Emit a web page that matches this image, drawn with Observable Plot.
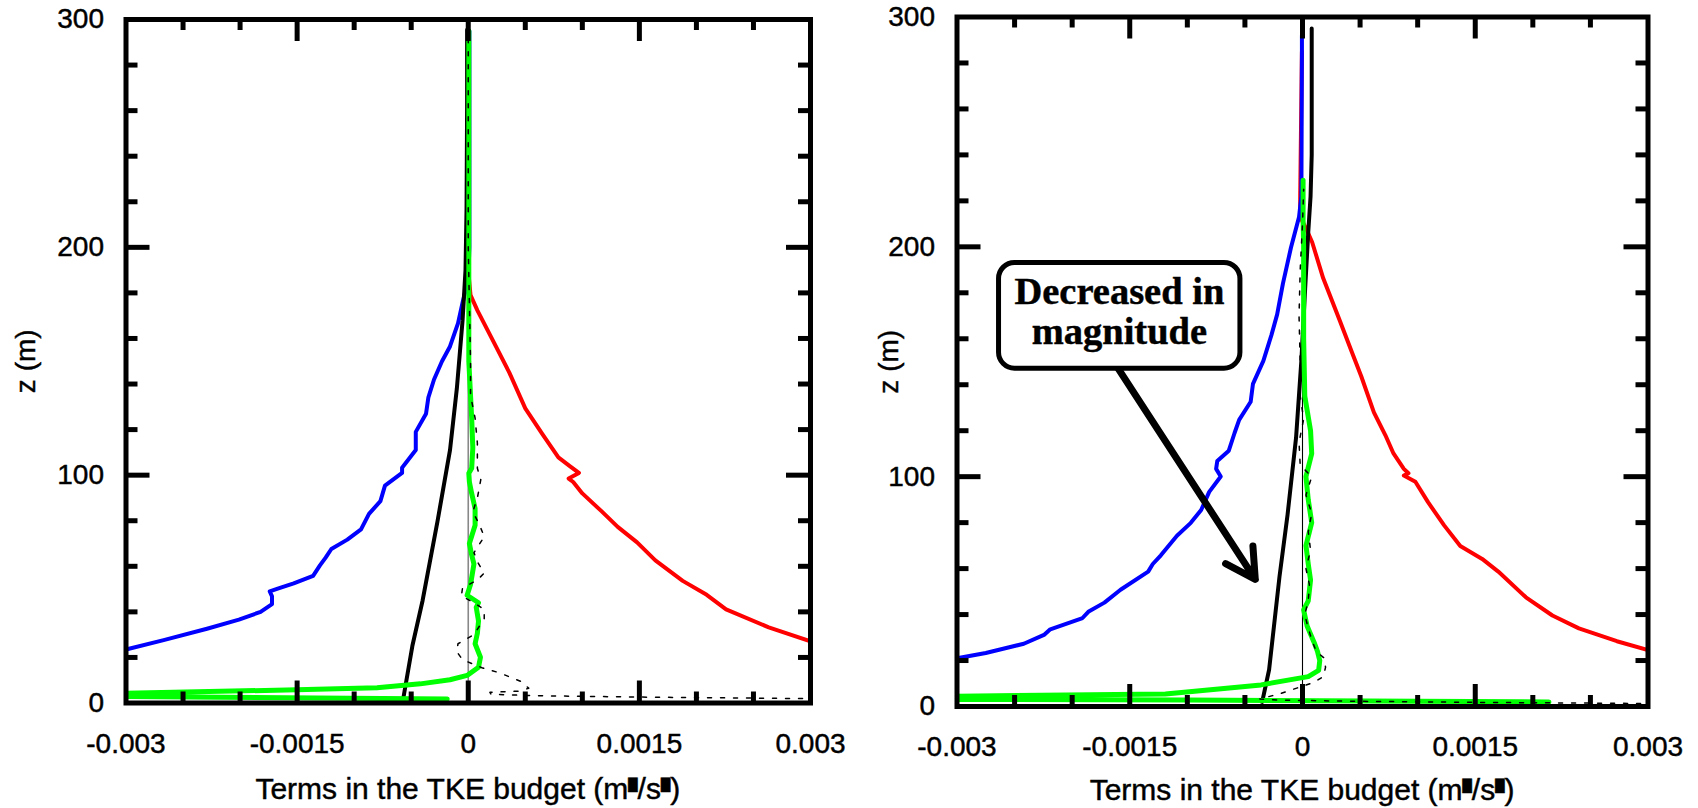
<!DOCTYPE html>
<html><head><meta charset="utf-8">
<script src="https://cdn.jsdelivr.net/npm/d3@7"></script>
<script src="https://cdn.jsdelivr.net/npm/@observablehq/plot@0.6"></script>
<style>
html,body{margin:0;padding:0;background:#fff;}
#wrap{position:relative;width:1698px;height:808px;overflow:hidden;background:#fff;}
#wrap svg{position:absolute;top:0;}
#wrap svg text{stroke:black;stroke-width:0.45px;}
</style></head><body><div id="wrap"></div>
<script>
// ---------- tick values ----------
const xLabelTicks = [-0.003, -0.0015, 0, 0.0015, 0.003];
const xMajorTicks = [-0.0015, 0, 0.0015];
const xMinorTicks = [-0.0025, -0.002, -0.001, -0.0005, 0.0005, 0.001, 0.002, 0.0025];
const zLabelTicks = [0, 100, 200, 300];
const zMajorTicks = [100, 200];
const zMinorTicks = [20, 40, 60, 80, 120, 140, 160, 180, 220, 240, 260, 280];

// ---------- left panel series: [term, z] ----------
const leftBlue = [[-0.00305,22.5],[-0.003,23.5],[-0.00267,27.6],[-0.00229,32.6],[-0.00201,36.6],[-0.00182,40],[-0.00172,43.4],[-0.00172,46.8],[-0.00174,49],[-0.00167,50.2],[-0.00153,52.5],[-0.00136,55.8],[-0.0013,60.4],[-0.00125,63.8],[-0.0012,67.6],[-0.00106,71.7],[-0.00094,76.2],[-0.00087,83],[-0.00077,88.6],[-0.00073,95.4],[-0.00058,101],[-0.00058,103.3],[-0.00046,111],[-0.00046,119],[-0.00037,127],[-0.00035,134],[-0.0003,142],[-0.00023,150],[-0.00016,156.5],[-0.00009,166.6],[-0.00005,175.7],[0,186],[0.00001,200],[0.00001,295]];
const leftRed = [[0,195],[0.000005,187],[0.00002,179],[0.00008,172.3],[0.00022,158.7],[0.00036,145],[0.0005,129.3],[0.00065,118],[0.00079,107.8],[0.00089,104],[0.00097,101],[0.00088,98.5],[0.00092,97],[0.001,92],[0.00117,84.1],[0.00131,77.3],[0.00148,70.5],[0.00164,62.6],[0.00188,53.6],[0.00209,47.5],[0.00226,41.1],[0.002634,33.2],[0.003,27.1],[0.0031,25.8]];
const leftBlack = [[-0.000568,2.4],[-0.00049,25],[-0.0004,45],[-0.00027,79.6],[-0.00016,111],[-0.0001,138],[-0.00005,167.8],[-0.000024,190],[-0.000015,217],[-0.00001,263],[-0.00001,295.5]];
const leftGreen = [[-0.000184,1.8],[-0.003,2.85],[-0.0034,3.5],[-0.003,4.3],[-0.0015,5.8],[-0.0008,6.7],[-0.00042,8.4],[-0.00016,10.2],[-0.00001,12.1],[0.00009,15.7],[0.000107,20.1],[0.00006,26],[0.00008,30.6],[0.00009,36],[0.00007,42],[0.00009,44],[-0.00001,47.3],[0.00002,52],[0.00005,61],[0.00003,65],[0.00001,70],[0.00006,78],[0.00006,85.4],[0.00003,92],[0.00001,97],[0.000005,100.8],[0.00003,103],[0.00004,112],[0.00003,125],[0.00002,135],[0.000005,150],[0.000005,175],[0.000005,200],[0.000005,295]];
const leftDotted = [[0.0035,1.8],[0.003,1.9],[0.0015,2.6],[0.0006,3.2],[0.0002,3.8],[0.00019,4.7],[0.00045,5.2],[0.00053,6.5],[0.00046,9.5],[0.00027,13.3],[0.00012,15.5],[-0.00005,19],[-0.0001,22.5],[-0.00009,26],[0.00005,30],[0.00014,37],[0.00014,41],[0.00005,44],[-0.00006,47],[-0.00005,50.5],[0.00008,54],[0.00014,57],[0.00008,62],[0.00005,66],[0.00014,73],[0.0001,78],[0.00004,84],[0.00008,90],[0.00011,98],[0.00008,103],[0.00008,114],[0.00006,125],[0.00002,135],[0.00002,150],[0.00001,175],[0,200],[0,295]];

// ---------- right panel series: [term, z] ----------
const rightBlue = [[-0.0031,20],[-0.003,21],[-0.00275,23.3],[-0.00242,27.3],[-0.00224,31.3],[-0.00219,33.6],[-0.00191,38.5],[-0.00186,41.2],[-0.00172,45.2],[-0.00158,50.8],[-0.00134,58.7],[-0.0013,62],[-0.00123,65.8],[-0.00109,74.3],[-0.00097,79.9],[-0.00088,85.5],[-0.00081,93.4],[-0.00071,100.1],[-0.00075,103.4],[-0.00074,106.8],[-0.00064,111.3],[-0.00059,119],[-0.00055,124.7],[-0.00045,132.6],[-0.00043,140.4],[-0.00034,150.4],[-0.00027,161.6],[-0.00022,170.6],[-0.00017,184],[-0.0001,199.7],[-0.00003,213],[-0.00001,222],[-0.000005,285],[-0.000005,292]];
const rightRed = [[-0.000005,285],[-0.00002,222],[-0.00002,213],[0.00004,207],[0.000084,202],[0.00018,186.3],[0.00032,168.4],[0.00044,152.7],[0.00051,143.7],[0.00062,128],[0.00072,118],[0.00079,110.1],[0.00088,103.4],[0.00092,101.5],[0.00088,100.5],[0.00098,97.8],[0.00109,88.9],[0.00123,78.8],[0.00137,69.8],[0.00156,64.2],[0.0017,58.7],[0.00194,47.5],[0.00217,39.6],[0.0024,34],[0.00273,28.4],[0.003,24.6],[0.0031,23.5]];
const rightBlack = [[-0.00035,2],[-0.00029,16],[-0.0002,56.4],[-0.00013,83.3],[-0.000056,116.9],[-0.00001,150.4],[0.000023,181.8],[0.00005,206.4],[0.00007,222],[0.00008,240],[0.00008,295]];
const rightGreen = [[0.00214,2.0],[0.001,2.3],[-0.001,2.8],[-0.003,3.1],[-0.0034,3.8],[-0.003,4.5],[-0.00119,5.4],[-0.00036,9.4],[0.00005,13],[0.00014,15.7],[0.00015,20],[0.00013,24],[0.0001,28],[0.00004,35],[0.00001,42],[0.00005,46],[0.00007,55],[0.00005,62],[0.00003,70],[0.00008,80],[0.00005,90],[0.00003,100],[0.00008,110],[0.00007,120],[0.00002,135],[0.00001,160],[0.00001,200],[0.000005,212],[0.000005,229]];
const rightDotted = [[0.0035,1.2],[0.003,1.3],[0.0015,1.8],[0.0004,2.3],[-0.0002,2.8],[-0.00037,3.3],[-0.0002,5.5],[-0.00005,8],[0.0001,10.5],[0.00018,13],[0.0002,17],[0.00019,21],[0.00012,24],[0.00008,29],[0.00004,36],[0.00002,40],[0.00005,46],[0.00006,53],[0.00003,60],[0.00007,68],[0.00005,76],[0.00008,84],[0.00003,92],[0.00008,100],[-0.00002,105],[-0.00003,115],[0.00001,125],[-0.00002,135],[-0.00002,150],[-0.00003,170],[-0.00002,190],[0,210],[0.00001,225]];

// ---------- annotation (right panel) ----------
const noteText = ["Decreased in\nmagnitude"];
const noteAnchor = [{x: -0.00159, z: 172}];
const noteBox = [{x1: -0.002635, x2: -0.000539, z1: 147, z2: 193}];
const noteArrow = [{x1: -0.0016, z1: 147, x2: -0.00041, z2: 55.3}];

const xTitle = ["Terms in the TKE budget (m", "/s", ")"];
const zTitle = ["z (m)"];

const SANS = "'Liberation Sans', Arial, Helvetica, sans-serif";

function panel(cfg) {
  const W = cfg.width, H = 808;
  const innerH = H - cfg.marginTop - cfg.marginBottom;
  const innerW = W - cfg.marginLeft - cfg.marginRight;
  const P = d => d[0], Z = d => d[1];
  const line = (data, stroke, sw, extra = {}) =>
    Plot.line(data, {x: P, y: Z, stroke, strokeWidth: sw, clip: true, strokeLinejoin: "round", ...extra});
  const marks = [
    Plot.ruleX([0], {stroke: cfg.zeroStroke, strokeWidth: cfg.zeroWidth}),
    line(cfg.red, "#ff0000", 4),
    line(cfg.blue, "#0000ff", 4),
    line(cfg.black, "#000000", 4),
    line(cfg.green, "#00ff00", 5),
    line(cfg.dotted, "#000000", 1.5, {strokeDasharray: "4,9"}),
    ...(cfg.extra || []),
    Plot.frame({stroke: "black", strokeWidth: 5}),
    Plot.tickX(xMajorTicks, {x: d => d, insetTop: innerH - 22, strokeWidth: 5}),
    Plot.tickX(xMinorTicks, {x: d => d, insetTop: innerH - 11, strokeWidth: 5}),
    Plot.tickX(xMajorTicks, {x: d => d, insetBottom: innerH - 22, strokeWidth: 5}),
    Plot.tickX(xMinorTicks, {x: d => d, insetBottom: innerH - 11, strokeWidth: 5}),
    Plot.tickY(zMajorTicks, {y: d => d, insetRight: innerW - 24, strokeWidth: 5}),
    Plot.tickY(zMinorTicks, {y: d => d, insetRight: innerW - 12, strokeWidth: 5}),
    Plot.tickY(zMajorTicks, {y: d => d, insetLeft: innerW - 24, strokeWidth: 5}),
    Plot.tickY(zMinorTicks, {y: d => d, insetLeft: innerW - 12, strokeWidth: 5}),
    Plot.axisX(xLabelTicks, {tickSize: 0, tickPadding: 30, fontSize: 28, label: null,
      tickFormat: d => String(d)}),
    Plot.axisY(zLabelTicks, {tickSize: 0, tickPadding: 22, fontSize: 28, label: null,
      tickFormat: d => String(d)}),
    Plot.text(zTitle, {text: d => d, frameAnchor: "left", rotate: -90, dx: cfg.zTitleDx, fontSize: 28, textAnchor: "middle"})
  ];
  const svg = Plot.plot({
    width: W, height: H,
    marginLeft: cfg.marginLeft, marginRight: cfg.marginRight,
    marginTop: cfg.marginTop, marginBottom: cfg.marginBottom,
    x: {domain: [-0.003, 0.003]},
    y: {domain: [0, 300]},
    style: {fontFamily: SANS, fontSize: "28px", color: "black", background: "transparent", overflow: "visible"},
    marks
  });
  svg.style.left = cfg.left + "px";
  // x-axis title with the raised box glyphs of the original
  const t = d3.select(svg).append("text")
    .attr("x", cfg.marginLeft + innerW / 2)
    .attr("y", cfg.titleBaseline)
    .attr("text-anchor", "middle")
    .attr("font-family", SANS).attr("font-size", 30).attr("fill", "black");
  const box = () => t.append("tspan").attr("font-family", "DejaVu Sans").attr("font-size", 12).attr("dy", -10.5).text("\u2588");
  t.append("tspan").text(xTitle[0]);
  box();
  t.append("tspan").attr("dy", 10.5).text(xTitle[1]);
  box();
  t.append("tspan").attr("dy", 10.5).text(xTitle[2]);
  return svg;
}

const wrap = document.getElementById("wrap");

wrap.appendChild(panel({
  left: 0, width: 849,
  marginLeft: 125.5, marginRight: 39, marginTop: 19, marginBottom: 105.5,
  zeroStroke: "#888888", zeroWidth: 1.6, titleBaseline: 799, zTitleDx: -100,
  red: leftRed, blue: leftBlue, black: leftBlack, green: leftGreen, dotted: leftDotted
}));

wrap.appendChild(panel({
  left: 849, width: 849,
  marginLeft: 107.5, marginRight: 50.5, marginTop: 16.5, marginBottom: 102,
  zeroStroke: "#000000", zeroWidth: 1.1, titleBaseline: 800, zTitleDx: -68,
  red: rightRed, blue: rightBlue, black: rightBlack, green: rightGreen, dotted: rightDotted,
  extra: [
    Plot.arrow(noteArrow, {x1: "x1", y1: "z1", x2: "x2", y2: "z2", stroke: "black", strokeWidth: 7, headLength: 7.2, headAngle: 58}),
    Plot.rect(noteBox, {x1: "x1", x2: "x2", y1: "z1", y2: "z2", fill: "white", stroke: "black", strokeWidth: 5, rx: 16}),
    Plot.text(noteText, {x: () => noteAnchor[0].x, y: () => noteAnchor[0].z, text: d => d,
      fontFamily: "'Liberation Serif', 'Times New Roman', serif", fontWeight: "bold", fontSize: 38.5, lineHeight: 1.05, textAnchor: "middle"})
  ]
}));
</script></body></html>
